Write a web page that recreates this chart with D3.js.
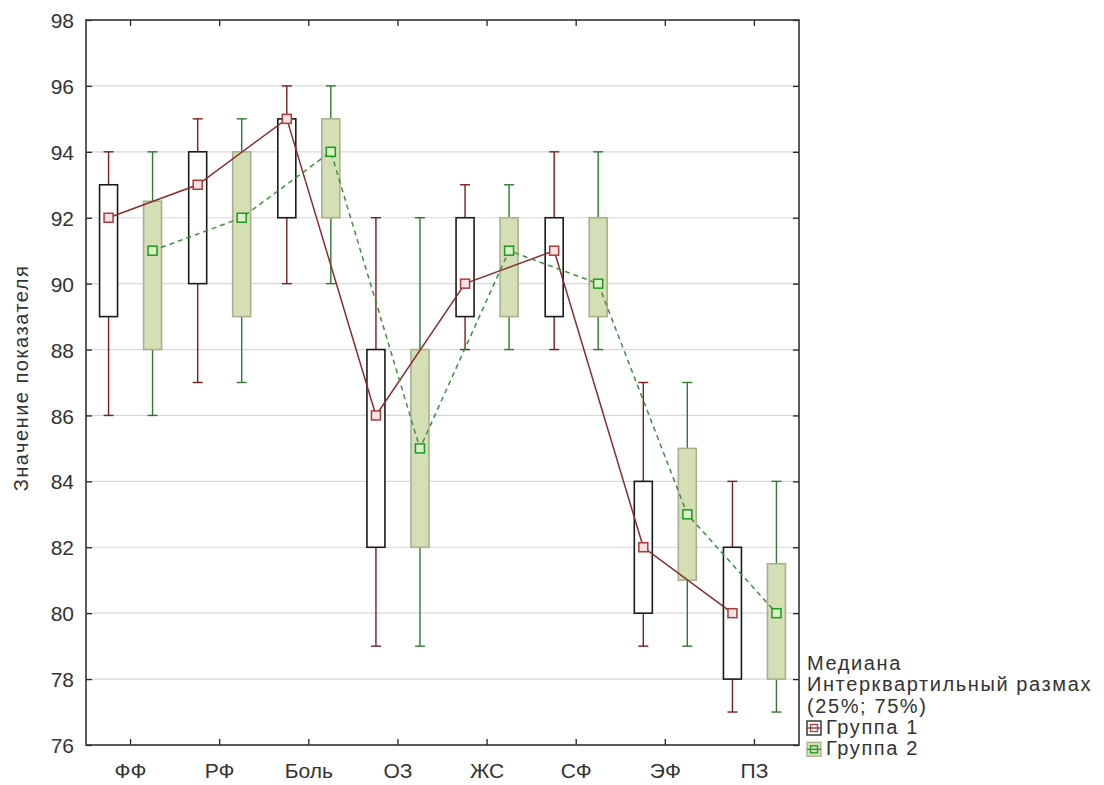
<!DOCTYPE html>
<html>
<head>
<meta charset="utf-8">
<script src="https://cdn.jsdelivr.net/npm/d3@7"></script>
<style>
  body { margin: 0; background: #fff; }
  text { font-family: "Liberation Sans", Arial, sans-serif; }
</style>
</head>
<body>
<div id="chart"></div>
<script>
// box plot, two groups per category: median, quartiles, min-max whiskers
const categories = ["ФФ", "РФ", "Боль", "ОЗ", "ЖС", "СФ", "ЭФ", "ПЗ"];

const g1Median = [92, 93, 95, 86, 90, 91, 82, 80];
const g1Q1     = [89, 90, 92, 82, 89, 89, 80, 78];
const g1Q3     = [93, 94, 95, 88, 92, 92, 84, 82];
const g1Min    = [86, 87, 90, 79, 88, 88, 79, 77];
const g1Max    = [94, 95, 96, 92, 93, 94, 87, 84];

const g2Median = [91, 92, 94, 85, 91, 90, 83, 80];
const g2Q1     = [88, 89, 92, 82, 89, 89, 81, 78];
const g2Q3     = [92.5, 94, 95, 88, 92, 92, 85, 81.5];
const g2Min    = [86, 87, 90, 79, 88, 88, 79, 77];
const g2Max    = [94, 95, 96, 92, 93, 94, 87, 84];

const yTicks = [76, 78, 80, 82, 84, 86, 88, 90, 92, 94, 96, 98];

const legendLines = ["Медиана", "Интерквартильный размах", "(25%; 75%)"];
const groupNames = ["Группа 1", "Группа 2"];

const width = 1104, height = 785,
      margin = ({top: 20, right: 305, bottom: 40, left: 86});

const svg = d3.select("#chart")
  .append("svg")
  .attr("width", width)
  .attr("height", height);

const x = d3.scaleBand()
  .domain(categories)
  .range([margin.left, width - margin.right]);

const y = d3.scaleLinear()
  .domain([76, 98])
  .range([height - margin.bottom, margin.top]);

const off = 22, bw = 18, cap = 10, mk = 9;

const groups = [
  {name: groupNames[0], med: g1Median, q1: g1Q1, q3: g1Q3, lo: g1Min, hi: g1Max,
   dx: -off, fill: "#ffffff", stroke: "#1a1a1a", whisk: "#7a1e1e",
   line: "#8b2c2c", dash: null, mkStroke: "#b0383a", mkFill: "#f4e4e4"},
  {name: groupNames[1], med: g2Median, q1: g2Q1, q3: g2Q3, lo: g2Min, hi: g2Max,
   dx: off, fill: "#d5dfb6", stroke: "#a9b090", whisk: "#2f7a2f",
   line: "#3f8f3f", dash: "5,4", mkStroke: "#1d9a1d", mkFill: "#d9f0c8"}
];

const cx = (i, g) => x(categories[i]) + x.bandwidth() / 2 + g.dx;

// grid
svg.append("g")
  .selectAll("line")
  .data(yTicks.slice(1, -1))
  .join("line")
  .attr("x1", margin.left).attr("x2", width - margin.right)
  .attr("y1", d => y(d)).attr("y2", d => y(d))
  .attr("stroke", "#d8d8d8")
  .attr("stroke-width", 1.2);

// axes (ticks pointing inward)
svg.append("g")
  .attr("class", "yaxis")
  .attr("transform", `translate(${margin.left},0)`)
  .call(d3.axisLeft(y).tickValues(yTicks).tickSize(-6).tickPadding(12))
  .call(g => g.select(".domain").remove());

svg.append("g")
  .attr("transform", `translate(${width - margin.right},0)`)
  .call(d3.axisRight(y).tickValues(yTicks).tickSize(-6).tickFormat(""))
  .call(g => g.select(".domain").remove());

svg.append("g")
  .attr("class", "xaxis")
  .attr("transform", `translate(0,${height - margin.bottom})`)
  .call(d3.axisBottom(x).tickSize(-6).tickPadding(18))
  .call(g => g.select(".domain").remove());

svg.append("g")
  .attr("transform", `translate(0,${margin.top})`)
  .call(d3.axisTop(x).tickSize(-6).tickFormat(""))
  .call(g => g.select(".domain").remove());

svg.selectAll(".tick line").attr("stroke", "#222").attr("stroke-width", 1.3);
svg.selectAll(".tick text")
  .attr("font-size", 21)
  .attr("fill", "#333")
  .attr("font-family", "Liberation Sans, Arial, sans-serif");
svg.selectAll(".yaxis .tick text").attr("dy", "0.36em");

svg.append("rect")
  .attr("x", margin.left).attr("y", margin.top)
  .attr("width", width - margin.left - margin.right)
  .attr("height", height - margin.top - margin.bottom)
  .attr("fill", "none")
  .attr("stroke", "#333")
  .attr("stroke-width", 1.6);

// boxes and whiskers
for (const g of groups) {
  const gr = svg.append("g");
  const idx = d3.range(categories.length);

  gr.selectAll(".wh").data(idx).join("line")
    .attr("x1", i => cx(i, g)).attr("x2", i => cx(i, g))
    .attr("y1", i => y(g.hi[i])).attr("y2", i => y(g.lo[i]))
    .attr("stroke", g.whisk).attr("stroke-width", 1.4);

  gr.selectAll(".capHi").data(idx).join("line")
    .attr("x1", i => cx(i, g) - cap / 2).attr("x2", i => cx(i, g) + cap / 2)
    .attr("y1", i => y(g.hi[i])).attr("y2", i => y(g.hi[i]))
    .attr("stroke", g.whisk).attr("stroke-width", 1.4);

  gr.selectAll(".capLo").data(idx).join("line")
    .attr("x1", i => cx(i, g) - cap / 2).attr("x2", i => cx(i, g) + cap / 2)
    .attr("y1", i => y(g.lo[i])).attr("y2", i => y(g.lo[i]))
    .attr("stroke", g.whisk).attr("stroke-width", 1.4);

  gr.selectAll("rect").data(idx).join("rect")
    .attr("x", i => cx(i, g) - bw / 2)
    .attr("width", bw)
    .attr("y", i => y(g.q3[i]))
    .attr("height", i => y(g.q1[i]) - y(g.q3[i]))
    .attr("fill", g.fill)
    .attr("stroke", g.stroke)
    .attr("stroke-width", 1.6);
}

// median lines + markers
for (const g of groups) {
  const line = d3.line()
    .x((d, i) => cx(i, g))
    .y(d => y(d));

  svg.append("path")
    .datum(g.med)
    .attr("d", line)
    .attr("fill", "none")
    .attr("stroke", g.line)
    .attr("stroke-width", 1.5)
    .attr("stroke-dasharray", g.dash);
}

for (const g of groups) {
  svg.append("g").selectAll("rect")
    .data(g.med)
    .join("rect")
    .attr("x", (d, i) => cx(i, g) - mk / 2)
    .attr("y", d => y(d) - mk / 2)
    .attr("width", mk).attr("height", mk)
    .attr("fill", g.mkFill)
    .attr("stroke", g.mkStroke)
    .attr("stroke-width", 1.5);
}

// y axis title
svg.append("text")
  .attr("transform", `translate(28,378) rotate(-90)`)
  .attr("text-anchor", "middle")
  .attr("font-size", 20)
  .attr("letter-spacing", 1.5)
  .attr("fill", "#333")
  .text("Значение показателя");

// legend
const lx = width - margin.right + 8;
const lg = svg.append("g").attr("font-size", 20).attr("letter-spacing", 1.6).attr("fill", "#333");
legendLines.forEach((t, i) => {
  lg.append("text").attr("x", lx).attr("y", 670 + i * 21.3).text(t);
});
groups.forEach((g, i) => {
  const yy = 734 + i * 21.3;
  lg.append("rect")
    .attr("x", lx).attr("y", yy - 13)
    .attr("width", 14).attr("height", 14)
    .attr("fill", g.fill).attr("stroke", g.stroke).attr("stroke-width", 1.3);
  lg.append("line")
    .attr("x1", lx).attr("x2", lx + 14)
    .attr("y1", yy - 6).attr("y2", yy - 6)
    .attr("stroke", g.line).attr("stroke-width", 1.3);
  lg.append("rect")
    .attr("x", lx + 3.5).attr("y", yy - 9.5)
    .attr("width", 7).attr("height", 7)
    .attr("fill", "none").attr("stroke", g.mkStroke).attr("stroke-width", 1.3);
  lg.append("text").attr("x", lx + 19).attr("y", yy).text(g.name);
});
</script>
</body>
</html>
